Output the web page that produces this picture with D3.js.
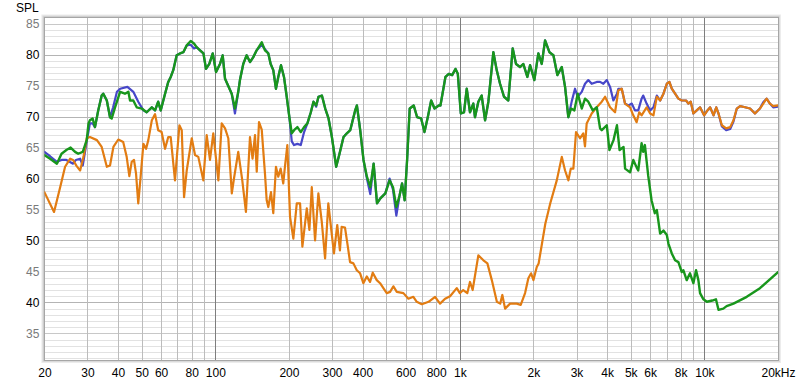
<!DOCTYPE html>
<html>
<head>
<meta charset="utf-8">
<script src="https://cdn.jsdelivr.net/npm/d3@7"></script>
<style>
  body { margin: 0; background: #fff; }
  svg { display: block; font-family: "Liberation Sans", Arial, sans-serif; }
</style>
</head>
<body>
<div id="chart"></div>
<script>
var svgWidth = 800;
var svgHeight = 385;

var plot = { left: 44.4, right: 778, top: 17.5, bottom: 360 };

// frequency grid + labels
var xGridValues = [30,40,50,60,70,80,90,100,200,300,400,500,600,700,800,900,1000,
  2000,3000,4000,5000,6000,7000,8000,9000,10000];
var xDecades = [100, 1000, 10000];
var xTickValues = [20,30,40,50,60,80,100,200,300,400,600,800,1000,2000,3000,4000,5000,6000,8000,10000,20000];
var xTickLabels = ["20","30","40","50","60","80","100","200","300","400","600","800","1k","2k","3k","4k","5k","6k","8k","10k","20kHz"];
var yTickValues = [35,40,45,50,55,60,65,70,75,80,85];

// [Hz, dB SPL]
var blueCurve = [[20,64.3],[21.1,63.6],[22.5,62.7],[23.5,63.0],[24.6,63.0],[26.2,62.4],[26.9,63.0],[28.0,63.2],[28.7,62.1],[29.8,66.0],[30.7,68.9],[31.5,68.9],[32.2,68.3],[33.2,71.0],[34.3,73.4],[34.8,73.7],[36.0,72.6],[37.1,69.9],[38.2,71.5],[39.6,74.0],[40.8,74.5],[43.7,74.8],[46.2,74.0],[48.4,72.4],[50.8,71.0],[52.4,70.7],[55.0,71.5],[56.7,71.0],[58.4,72.4],[59.8,71.0],[62.3,73.7],[64.2,75.6],[65.7,76.4],[67.3,77.5],[69.5,79.9],[71.7,80.2],[74.0,80.4],[76.4,81.5],[79.3,81.6],[81.8,81.0],[83.9,81.2],[86.6,80.7],[89.4,80.2],[91.6,77.7],[94.5,78.5],[97.6,80.2],[100.7,77.2],[104.5,78.5],[107.2,79.9],[109.6,76.1],[116.7,73.7],[120.3,70.5],[124.1,74.0],[126.1,75.9],[130.1,78.5],[134.3,79.9],[138.6,78.8],[143.0,79.6],[147.6,80.7],[154.8,81.6],[159.6,80.9],[164.7,80.2],[168.4,78.5],[172.6,77.5],[177.0,74.5],[180.9,76.4],[185.6,78.3],[190.9,76.4],[195.9,73.2],[200.8,69.9],[205.4,66.0],[209.9,65.4],[216.6,65.6],[223.6,65.4],[230.7,67.5],[238.0,68.9],[245.8,70.7],[252.0,72.4],[258.5,71.6],[264.2,73.2],[272.8,73.4],[281.5,71.3],[290.4,69.7],[299.7,66.7],[312.1,61.9],[322.0,64.0],[334.4,66.7],[345.2,67.3],[356.2,67.8],[373.2,71.0],[379.3,71.8],[391.3,67.8],[403.6,63.0],[416.8,60.0],[430.2,57.5],[444.0,62.4],[458.4,56.0],[473.0,56.8],[495.7,57.6],[516.1,60.0],[532.9,58.2],[549.8,54.0],[567.2,57.3],[580.3,59.2],[594.8,56.5],[608.5,63.0],[623.6,71.3],[647.6,71.8],[668.8,69.9],[694.6,69.7],[716.6,67.5],[739.3,69.9],[763.3,72.6],[787.6,71.3],[820,71.8],[833,71.8],[873,76.4],[901,76.9],[930,76.7],[960,77.7],[981,76.9],[1009,70.5],[1040,70.7],[1067,74.5],[1100,70.7],[1135,72.1],[1153,69.9],[1190,72.4],[1228,73.4],[1268,69.4],[1308,72.4],[1371,80.4],[1415,77.5],[1460,75.3],[1516,73.2],[1578,72.6],[1645,81.0],[1697,78.5],[1762,78.0],[1818,78.5],[1888,76.4],[1937,78.3],[2017,75.9],[2094,80.2],[2162,78.5],[2231,82.3],[2324,80.4],[2413,79.9],[2505,76.7],[2610,78.0],[2693,74.8],[2777,69.9],[2869,72.5],[2958,74.5],[3034,73.2],[3151,74.0],[3250,75.3],[3352,75.9],[3461,75.3],[3630,75.6],[3744,75.6],[3862,75.3],[3989,75.9],[4114,74.8],[4244,72.6],[4390,73.7],[4448,74.5],[4592,74.5],[4736,72.1],[4890,71.8],[5050,72.1],[5200,71.0],[5363,71.0],[5537,72.9],[5620,73.4],[5804,72.1],[6000,71.0],[6190,71.5],[6391,73.4],[6593,72.6],[6802,73.7],[7020,75.3],[7194,75.6],[7357,74.5],[7589,73.7],[7829,72.9],[8083,72.6],[8416,72.6],[8600,72.1],[8796,72.4],[9014,70.5],[9305,71.0],[9600,71.5],[9972,70.2],[10290,71.0],[10560,71.5],[10900,70.2],[11180,71.5],[11420,70.5],[11790,68.4],[12280,67.8],[12750,68.0],[13150,69.2],[13570,71.3],[14000,71.7],[14670,71.5],[15370,71.3],[16100,70.5],[16870,71.3],[17410,72.3],[17960,72.9],[18530,72.1],[19120,71.5],[20000,71.6]];

var orangeCurve = [[20,57.8],[21.9,54.6],[23.2,58.6],[24.3,61.9],[25.5,63.2],[26.2,63.0],[27.1,62.0],[28.0,61.3],[28.9,63.5],[29.8,66.5],[30.7,66.7],[32.8,66.2],[34.3,65.1],[36.0,61.9],[37.1,62.1],[38.3,65.1],[40.1,66.3],[42.0,65.9],[43.4,63.5],[44.5,60.4],[45.5,62.7],[46.5,63.0],[47.4,60.8],[48.4,56.0],[49.5,60.3],[50.8,65.6],[52.1,64.8],[53.2,66.2],[55.0,69.4],[56.7,70.4],[58.4,67.8],[60.3,67.5],[62.3,64.8],[64.2,66.7],[65.7,66.7],[68.4,59.7],[71.3,68.6],[72.9,67.8],[74.5,57.0],[76.4,61.3],[80.1,66.5],[82.6,63.8],[85.2,63.5],[89.3,59.7],[92.2,67.0],[95.1,63.0],[98.1,67.3],[102.9,59.7],[106.2,68.9],[109.6,68.1],[113.0,66.5],[116.8,57.6],[119.2,60.0],[124.1,64.3],[128.9,59.7],[133.4,54.6],[138.6,66.7],[142.0,63.2],[145.3,67.0],[147.7,61.1],[150.9,69.1],[154.8,67.9],[159.6,60.8],[162.2,56.5],[164.7,55.4],[168.9,57.8],[172.6,54.4],[177.0,61.9],[180.9,60.3],[185.0,61.6],[189.6,59.2],[192.6,61.9],[197.0,65.4],[202.1,53.8],[208.5,50.3],[215.3,56.0],[222.1,56.0],[227.0,49.0],[236.6,55.2],[242.5,51.7],[248.0,58.6],[255.8,50.0],[263.9,57.6],[272.5,53.0],[281.1,47.1],[289.8,56.0],[299.2,51.1],[305.6,47.9],[315.2,52.5],[323.3,48.4],[328.5,52.2],[339.0,52.1],[346.8,49.5],[355.6,46.5],[367.0,46.3],[378.9,45.2],[391.0,44.7],[403.0,43.1],[416.2,44.2],[429.3,43.3],[440.4,44.8],[457.3,43.6],[471.8,43.1],[486.7,42.3],[502.4,41.5],[518.4,41.7],[534.8,42.6],[552.2,41.7],[587.7,41.5],[616,40.6],[645.5,40.9],[666.5,40.1],[698.7,39.7],[745.2,40.1],[791.8,40.9],[829.8,39.8],[870.2,40.6],[911.9,41.0],[971.2,42.3],[1000,41.5],[1032,42.0],[1073,41.5],[1100,43.3],[1128,42.0],[1190,47.6],[1248,46.8],[1296,46.3],[1351,43.6],[1417,40.1],[1462,39.8],[1492,41.2],[1531,39.0],[1605,39.8],[1708,39.8],[1774,39.6],[1848,41.5],[1906,43.9],[1956,44.7],[2000,43.6],[2063,45.7],[2100,46.3],[2236,52.7],[2343,56.0],[2491,59.7],[2611,63.5],[2693,61.3],[2779,59.7],[2842,61.6],[2912,61.6],[2986,67.5],[3099,66.5],[3197,67.3],[3249,65.2],[3301,68.9],[3461,70.5],[3628,71.5],[3804,72.4],[3925,73.2],[4114,71.5],[4312,70.7],[4448,74.2],[4592,74.5],[4736,72.1],[4966,71.5],[5119,70.2],[5283,69.1],[5414,70.7],[5537,70.2],[5804,71.5],[6000,70.5],[6190,70.2],[6391,73.2],[6593,72.6],[6802,73.7],[7020,75.3],[7194,75.6],[7357,74.5],[7589,73.7],[7829,72.9],[8083,72.6],[8416,72.6],[8600,72.1],[8796,72.4],[9014,70.5],[9305,71.0],[9600,71.5],[9972,70.2],[10290,71.0],[10560,71.5],[10900,70.2],[11180,71.5],[11420,70.5],[11790,68.6],[12280,68.1],[12750,68.3],[13150,69.4],[13570,71.3],[14000,71.7],[14670,71.5],[15370,71.3],[16100,70.5],[16870,71.3],[17410,72.1],[17960,72.9],[18530,72.1],[19120,71.7],[20000,71.8]];

var greenCurve = [[20,63.8],[21.1,63.2],[22.5,62.4],[23.5,64.0],[24.6,64.6],[25.6,65.0],[26.7,64.3],[27.5,64.0],[28.7,64.3],[29.8,66.2],[30.3,68.9],[30.7,69.4],[31.5,69.7],[32.2,68.3],[33.2,71.0],[34.3,73.4],[34.8,73.7],[36.0,72.6],[37.1,69.9],[37.7,69.7],[38.9,71.5],[40.8,74.0],[42.7,73.7],[44.1,74.0],[44.8,72.6],[46.2,72.6],[47.7,71.5],[50.0,71.3],[52.4,70.7],[55.0,71.5],[56.7,71.0],[58.4,72.4],[59.8,71.0],[62.3,73.7],[64.2,75.6],[65.7,76.4],[67.3,77.5],[69.5,79.9],[71.7,80.2],[74.0,80.4],[76.4,81.5],[79.3,82.2],[81.8,81.8],[83.9,81.2],[86.6,80.7],[89.4,80.2],[91.6,77.7],[94.5,78.5],[97.6,80.2],[100.7,77.2],[104.5,78.5],[107.2,79.9],[109.6,76.1],[116.7,73.7],[120.3,71.3],[124.1,74.0],[126.1,75.9],[130.1,78.5],[134.3,79.9],[138.6,78.8],[143.0,79.6],[147.6,80.7],[154.8,82.0],[159.6,80.7],[164.7,80.2],[168.4,78.5],[172.6,77.5],[177.0,74.5],[180.9,76.4],[185.6,78.3],[190.9,76.4],[195.9,73.2],[200.8,69.9],[205.4,67.3],[209.9,67.8],[216.6,68.3],[223.6,67.5],[230.7,68.3],[238.0,68.9],[245.8,70.7],[252.0,72.4],[258.5,71.8],[264.2,73.2],[272.8,73.4],[281.5,71.3],[290.4,69.7],[299.7,66.7],[312.1,61.9],[322.0,64.0],[334.4,66.7],[345.2,67.3],[356.2,67.8],[373.2,71.0],[379.3,71.8],[391.3,67.8],[403.6,63.0],[416.8,60.3],[430.2,58.6],[444.0,62.4],[458.4,56.0],[473.0,56.8],[495.7,57.6],[516.1,59.7],[532.9,58.6],[549.8,55.4],[567.2,57.3],[580.3,59.2],[594.8,56.5],[608.5,63.0],[623.6,71.3],[647.6,71.8],[668.8,69.9],[694.6,69.7],[716.6,67.5],[739.3,69.9],[763.3,72.6],[787.6,71.3],[820,71.8],[833,71.8],[873,76.4],[901,76.9],[930,76.7],[960,77.7],[981,76.9],[1009,70.5],[1040,70.7],[1067,74.5],[1100,70.7],[1135,72.1],[1153,69.9],[1190,72.4],[1228,73.4],[1268,69.4],[1308,72.4],[1371,80.4],[1415,77.5],[1460,75.3],[1516,73.2],[1578,72.6],[1645,81.0],[1697,78.5],[1762,78.0],[1818,78.5],[1888,76.4],[1937,78.3],[2017,75.9],[2094,80.2],[2162,78.5],[2231,82.3],[2324,80.4],[2413,79.9],[2505,76.7],[2610,78.0],[2693,74.8],[2777,69.9],[2849,71.3],[2939,71.0],[3034,73.7],[3151,71.3],[3250,72.9],[3352,72.4],[3497,71.0],[3630,71.5],[3744,68.1],[3805,67.8],[3990,68.6],[4090,64.6],[4250,66.2],[4390,68.6],[4500,64.6],[4670,65.1],[4740,61.6],[4966,61.0],[5120,63.0],[5283,61.8],[5363,61.3],[5537,65.7],[5620,64.3],[5710,65.4],[5890,60.5],[6080,56.5],[6270,54.4],[6391,54.9],[6593,51.1],[6802,51.6],[7020,50.9],[7127,49.5],[7357,47.9],[7589,46.8],[7829,46.5],[8083,44.9],[8200,45.2],[8466,43.6],[8733,44.7],[9014,43.1],[9245,45.2],[9450,43.6],[9600,41.5],[9910,40.5],[10240,40.1],[10770,40.3],[11150,40.5],[11420,38.8],[11950,39.0],[12330,39.4],[13150,39.8],[14900,40.9],[16870,42.3],[20000,44.9]];

var seriesList = [
  { name: "blue", color: "#4747c9", width: 2.2, data: blueCurve },
  { name: "orange", color: "#e27c12", width: 2.2, data: orangeCurve },
  { name: "green", color: "#18961c", width: 2.4, data: greenCurve }
];

///////////////////////////////////////////////////////////////////////

var svg = d3.select("#chart")
  .append("svg")
  .attr("width", svgWidth)
  .attr("height", svgHeight);

var xScale = d3.scaleLog()
  .domain([20, 20000])
  .range([plot.left, plot.right]);

var yScale = d3.scaleLinear()
  .domain([30.7, 86])
  .range([plot.bottom, plot.top]);

var plotW = plot.right - plot.left;
var plotH = plot.bottom - plot.top;

// frame with a soft shadow
[[3, "#ececec"], [2, "#dadada"], [1, "#c4c4c4"]].forEach(function(s) {
  svg.append("rect")
    .attr("x", plot.left - s[0])
    .attr("y", plot.top - s[0])
    .attr("width", plotW + 2 * s[0])
    .attr("height", plotH + 2 * s[0])
    .attr("fill", s[1]);
});
svg.append("rect")
  .attr("x", plot.left).attr("y", plot.top)
  .attr("width", plotW).attr("height", plotH)
  .attr("fill", "#fff");

// horizontal grid every 1 dB
var dbLines = d3.range(31, 86);
svg.append("g")
  .attr("class", "hgrid")
  .attr("transform", `translate(${plot.left},0)`)
  .call(d3.axisLeft(yScale).tickValues(dbLines).tickSize(-plotW).tickFormat(""))
  .call(g => g.select(".domain").remove())
  .selectAll("line")
  .attr("stroke", d => d % 10 === 0 ? "#b4b4b4" : (d % 5 === 0 ? "#c8c8c8" : "#e2e2e2"))
  .attr("shape-rendering", "crispEdges");

// vertical grid
svg.append("g")
  .attr("class", "vgrid")
  .attr("transform", `translate(0,${plot.bottom})`)
  .call(d3.axisBottom(xScale).tickValues(xGridValues).tickSize(-plotH).tickFormat(""))
  .call(g => g.select(".domain").remove())
  .selectAll("line")
  .attr("stroke", d => xDecades.indexOf(d) >= 0 ? "#7e7e7e" : "#bcbcbc")
  .attr("shape-rendering", "crispEdges");

// border
svg.append("rect")
  .attr("x", plot.left).attr("y", plot.top)
  .attr("width", plotW).attr("height", plotH)
  .attr("fill", "none")
  .attr("stroke", "#a6a6a6")
  .attr("shape-rendering", "crispEdges");

// curves
svg.append("clipPath").attr("id", "clip")
  .append("rect")
  .attr("x", plot.left).attr("y", plot.top)
  .attr("width", plotW).attr("height", plotH);

var line = d3.line()
  .x(d => xScale(d[0]))
  .y(d => yScale(d[1]));

svg.append("g")
  .attr("clip-path", "url(#clip)")
  .selectAll(".curve")
  .data(seriesList)
  .enter()
  .append("path")
  .attr("class", "curve")
  .attr("d", d => line(d.data))
  .attr("fill", "none")
  .attr("stroke", d => d.color)
  .attr("stroke-width", d => d.width)
  .attr("stroke-linejoin", "round")
  .attr("stroke-linecap", "round");

// axis labels
var yAxis = d3.axisLeft(yScale)
  .tickValues(yTickValues)
  .tickSize(0)
  .tickPadding(5)
  .tickFormat(d3.format("d"));

svg.append("g")
  .attr("class", "axis")
  .attr("transform", `translate(${plot.left},0)`)
  .call(yAxis)
  .call(g => g.select(".domain").remove())
  .selectAll("text")
  .attr("font-size", 12)
  .attr("font-family", "Liberation Sans, Arial, sans-serif")
  .attr("fill", d => d % 10 === 0 ? "#000" : "#7a7a7a");

var xAxis = d3.axisBottom(xScale)
  .tickValues(xTickValues)
  .tickSize(0)
  .tickPadding(8)
  .tickFormat((d, i) => xTickLabels[i]);

svg.append("g")
  .attr("class", "axis")
  .attr("transform", `translate(0,${plot.bottom})`)
  .call(xAxis)
  .call(g => g.select(".domain").remove())
  .selectAll("text")
  .attr("font-size", 12)
  .attr("font-family", "Liberation Sans, Arial, sans-serif")
  .attr("fill", "#000");

svg.append("text")
  .attr("x", 16)
  .attr("y", 12)
  .attr("font-size", 12)
  .attr("fill", "#000")
  .text("SPL");
</script>
</body>
</html>
